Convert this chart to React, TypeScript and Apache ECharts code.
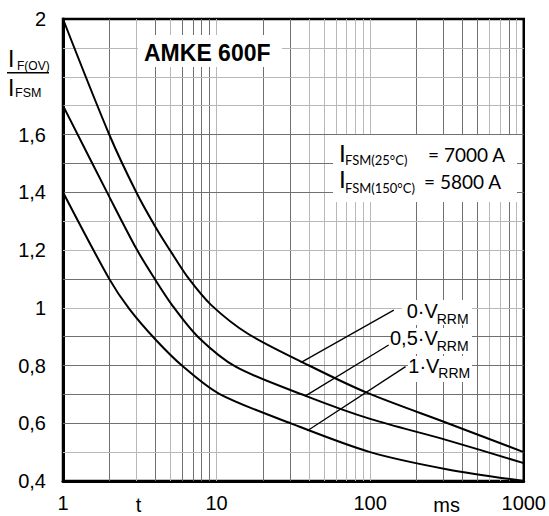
import React, { useEffect, useRef } from 'react';
import * as echarts from 'echarts';

// Curve data: time t (ms) vs I_F(OV)/I_FSM
const timesTop = [1, 2, 3, 4, 5.1, 6.5, 9.2, 16, 40, 95, 320, 1000];
const ratioTop = [2.0, 1.6, 1.4, 1.28, 1.19, 1.105, 1.01, 0.91, 0.8, 0.706, 0.6, 0.5];

const timesMid = [1, 2, 3, 3.85, 5.2, 7.6, 13.4, 38, 100, 300, 1000];
const ratioMid = [1.7, 1.385, 1.205, 1.11, 1.005, 0.898, 0.795, 0.695, 0.615, 0.545, 0.462];

const timesBot = [1, 2, 2.7, 4, 6, 10.4, 31, 100, 320, 1000];
const ratioBot = [1.4, 1.1, 0.996, 0.89, 0.798, 0.702, 0.598, 0.5, 0.44, 0.4];

// Leader lines from curves to labels (data coordinates)
const leaderTop = [[35.3, 0.81], [142.5, 0.992]];
const leaderMid = [[37.7, 0.694], [132, 0.871]];
const leaderBot = [[39, 0.574], [170, 0.796]];

// Grid lines
const verticalDark = [2, 4, 6, 7, 8, 9, 20, 30, 200, 300, 400, 500, 800];
const verticalLight = [3, 5, 10, 40, 50, 60, 70, 80, 90, 100, 600, 700, 900];
const horizontalDark = [1.6, 1.5, 1.4, 1.1, 0.9, 0.8, 0.7, 0.6];
const horizontalLight = [1.9, 1.8, 1.7, 1.3, 1.2, 1.0, 0.5];

const xTicks = [1, 10, 100, 1000];
const yTicks = [0.4, 0.6, 0.8, 1, 1.2, 1.4, 1.6, 2];

const DARK = '#707070';
const LIGHT = '#b8b8b8';
const F = 'Liberation Sans, Arial, Helvetica, sans-serif';
const L = 'Lato, Open Sans, sans-serif';

export default function App() {
  const ref = useRef<HTMLDivElement>(null);
  useEffect(() => {
    const chart = echarts.init(ref.current!, null, { renderer: 'svg' });
    const pair = (ts: number[], vs: number[]) => ts.map((t, i) => [t, vs[i]]);
    const gridLines = [
      ...verticalDark.map((v) => ({ xAxis: v, lineStyle: { color: DARK, width: 1, type: 'solid' } })),
      ...verticalLight.map((v) => ({ xAxis: v, lineStyle: { color: LIGHT, width: 1, type: 'solid' } })),
      ...horizontalDark.map((v) => ({ yAxis: v, lineStyle: { color: DARK, width: 1, type: 'solid' } })),
      ...horizontalLight.map((v) => ({ yAxis: v, lineStyle: { color: LIGHT, width: 1, type: 'solid' } })),
    ];
    const curve = (name: string, ts: number[], vs: number[], leader: number[][]) => ({
      type: 'line',
      name,
      data: pair(ts, vs),
      smooth: 0.3,
      symbol: 'none',
      showSymbol: false,
      z: 3,
      lineStyle: { color: '#000', width: 2 },
      emphasis: { disabled: true },
      markLine: {
        silent: true,
        z: 5,
        symbol: ['none', 'none'],
        label: { show: false },
        lineStyle: { color: '#000', width: 1.3, type: 'solid' },
        data: [[{ coord: leader[0] }, { coord: leader[1] }]],
      },
    });
    const txt = (text: string, x: number, y: number, size: number, family: string, weight = 'normal', align = 'left') => ({
      type: 'text',
      x,
      y,
      z: 10,
      style: {
        text,
        fontSize: size,
        fontFamily: family,
        fontWeight: weight,
        fill: '#000',
        textAlign: align,
        align,
        textVerticalAlign: 'middle',
        verticalAlign: 'middle',
      },
    });
    const rect = (x: number, y: number, w: number, h: number) => ({
      type: 'rect',
      z: 2,
      shape: { x, y, width: w, height: h },
      style: { fill: '#fff' },
    });
    chart.setOption({
      animation: false,
      grid: {
        left: 63,
        top: 19,
        width: 462,
        height: 462,
        show: true,
        borderColor: '#000',
        borderWidth: 2.5,
        backgroundColor: 'transparent',
      },
      xAxis: {
        type: 'log',
        logBase: 10,
        min: 1,
        max: 1000,
        axisLine: { show: true, lineStyle: { color: '#000', width: 3 } },
        axisTick: { show: false },
        splitLine: { show: false },
        minorSplitLine: { show: false },
        axisLabel: {
          margin: 12,
          fontSize: 20,
          fontFamily: F,
          color: '#000',
          formatter: (v: number) => (xTicks.some((t) => Math.abs(t - v) < 1e-6) ? String(Math.round(v)) : ''),
        },
      },
      yAxis: {
        type: 'value',
        min: 0.4,
        max: 2,
        interval: 0.2,
        axisLine: { show: true, lineStyle: { color: '#000', width: 3 } },
        axisTick: { show: false },
        splitLine: { show: false },
        axisLabel: {
          margin: 17,
          fontSize: 20,
          fontFamily: F,
          color: '#000',
          formatter: (v: number) =>
            yTicks.some((t) => Math.abs(t - v) < 1e-6) ? String(Math.round(v * 10) / 10).replace('.', ',') : '',
        },
      },
      series: [
        {
          type: 'line',
          name: 'grid',
          data: [],
          z: 1,
          silent: true,
          markLine: {
            silent: true,
            z: 1,
            symbol: ['none', 'none'],
            label: { show: false },
            data: gridLines,
          },
        },
        curve('0·VRRM', timesTop, ratioTop, leaderTop),
        curve('0,5·VRRM', timesMid, ratioMid, leaderMid),
        curve('1·VRRM', timesBot, ratioBot, leaderBot),
      ],
      graphic: {
        elements: [
          rect(138, 35, 144, 32),
          rect(333, 135, 184, 67),
          rect(402, 300, 70, 25),
          rect(392, 328, 80, 26),
          rect(408, 356, 64, 26),
          txt('AMKE 600F', 144, 53, 23, F, 'bold'),
          // y-axis title
          txt('I', 8, 58.5, 23, F),
          txt('F(OV)', 17, 65.5, 12, F),
          {
            type: 'line',
            z: 10,
            shape: { x1: 7, y1: 72.7, x2: 49, y2: 72.7 },
            style: { stroke: '#000', lineWidth: 1.5 },
          },
          txt('I', 8, 87.5, 23, F),
          txt('FSM', 15, 92.5, 12.5, F),
          // x-axis extra labels
          txt('t', 138.5, 505, 20, F, 'normal', 'center'),
          txt('ms', 446.7, 505, 20, F, 'normal', 'center'),
          // I_FSM box
          txt('I', 339, 152, 24, L),
          txt('FSM(25°C)', 345, 159.5, 13, L),
          txt('= 7000 A', 428, 154.5, 19, L),
          txt('I', 339, 178.7, 24, L),
          txt('FSM(150°C)', 345, 187.5, 13, L),
          txt('= 5800 A', 424, 181.2, 19, L),
          // curve labels
          txt('0·V', 406.7, 311, 20, F),
          txt('RRM', 436.7, 318.5, 14, F),
          txt('0,5·V', 390, 338, 20, F),
          txt('RRM', 436.7, 345.5, 14, F),
          txt('1·V', 408.3, 365.5, 20, F),
          txt('RRM', 438.3, 372.5, 14, F),
        ],
      },
    });
    return () => chart.dispose();
  }, []);
  return <div ref={ref} style={{ position: 'absolute', left: 0, top: 0, width: 549, height: 516 }} />;
}
